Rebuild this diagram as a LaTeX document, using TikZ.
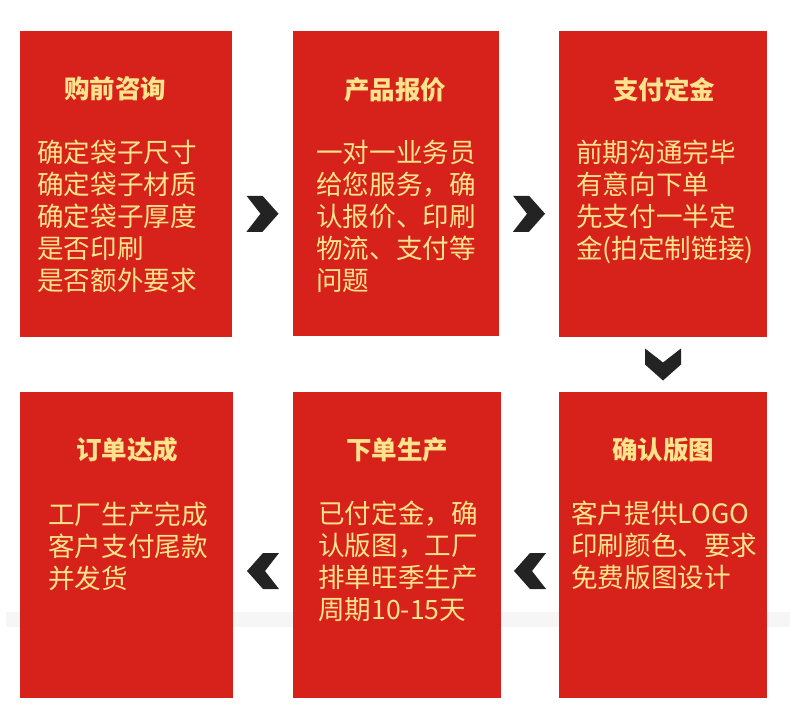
\documentclass[tikz,border=0pt]{standalone}
\usepackage{fontspec}
\setmainfont{Noto Sans CJK SC}
\usetikzlibrary{calc}
\definecolor{boxred}{HTML}{D6221A}
\definecolor{txtyellow}{HTML}{FCE38C}
\definecolor{chevgray}{HTML}{232323}
\definecolor{bandgray}{HTML}{F6F6F6}
\tikzset{
  stagebox/.style={fill=boxred, inner sep=0pt, outer sep=0pt, anchor=north west},
  headtext/.style={text=txtyellow, inner sep=0pt, anchor=base, font=\fontsize{25.5pt}{30pt}\selectfont\bfseries},
  bodytext/.style={text=txtyellow, inner sep=0pt, anchor=base west, align=left, font=\fontsize{26.6pt}{32pt}\selectfont},
  chevfill/.style={fill=chevgray}
}
\begin{document}
\begin{tikzpicture}[x=1pt,y=-1pt]
\useasboundingbox[fill=white] (0,0) rectangle (790,723);
\fill[bandgray] (6,612) rectangle (790,627);
\node[stagebox, minimum width=212pt, minimum height=306pt] (b1) at (20,31) {};
\node[stagebox, minimum width=206pt, minimum height=305pt] (b2) at (293,31) {};
\node[stagebox, minimum width=208pt, minimum height=306pt] (b3) at (559,31) {};
\node[stagebox, minimum width=213pt, minimum height=306pt] (b4) at (20,392) {};
\node[stagebox, minimum width=208pt, minimum height=306pt] (b5) at (293,392) {};
\node[stagebox, minimum width=208pt, minimum height=306pt] (b6) at (559,392) {};
\node[headtext] (h1) at (115,98) {购前咨询};
\node[headtext] (h2) at (395,99) {产品报价};
\node[headtext] (h3) at (664,99) {支付定金};
\node[headtext] (h4) at (127,459) {订单达成};
\node[headtext] (h5) at (397,459) {下单生产};
\node[headtext] (h6) at (663,459) {确认版图};
\node[bodytext] (t1) at (37,290) {确定袋子尺寸\\确定袋子材质\\确定袋子厚度\\是否印刷\\是否额外要求};
\node[bodytext] (t2) at (316,290) {一对一业务员\\给您服务，确\\认报价、印刷\\物流、支付等\\问题};
\node[bodytext] (t3) at (576,258) {前期沟通完毕\\有意向下单\\先支付一半定\\金(拍定制链接)};
\node[bodytext] (t4) at (48,588) {工厂生产完成\\客户支付尾款\\并发货};
\node[bodytext] (t5) at (318,619) {已付定金，确\\认版图，工厂\\排单旺季生产\\周期10-15天};
\node[bodytext] (t6) at (571,587) {客户提供LOGO\\印刷颜色、要求\\免费版图设计};
\coordinate (c12) at ($(b1.east)!0.5!(b2.west)+(0,30)$);
\coordinate (c23) at ($(b2.east)!0.5!(b3.west)+(0,30)$);
\coordinate (c36) at ($(b3.south)!0.5!(b6.north)$);
\coordinate (c65) at ($(b5.east)!0.5!(b6.west)+(0,26)$);
\coordinate (c54) at ($(b4.east)!0.5!(b5.west)+(0,26)$);
\fill[chevfill, shift={(c12)}] (-16,-18) -- (0,-18) -- (16,0) -- (0,18) -- (-16,18) -- (-2,0) -- cycle;
\fill[chevfill, shift={(c23)}] (-16,-18) -- (0,-18) -- (16,0) -- (0,18) -- (-16,18) -- (-2,0) -- cycle;
\fill[chevfill, shift={(c36)}] (-18,-16) -- (0,-2) -- (18,-16) -- (18,0) -- (0,16) -- (-18,0) -- cycle;
\fill[chevfill, shift={(c65)}] (16,-18) -- (0,-18) -- (-16,0) -- (0,18) -- (16,18) -- (2,0) -- cycle;
\fill[chevfill, shift={(c54)}] (16,-18) -- (0,-18) -- (-16,0) -- (0,18) -- (16,18) -- (2,0) -- cycle;
\end{tikzpicture}
\end{document}
